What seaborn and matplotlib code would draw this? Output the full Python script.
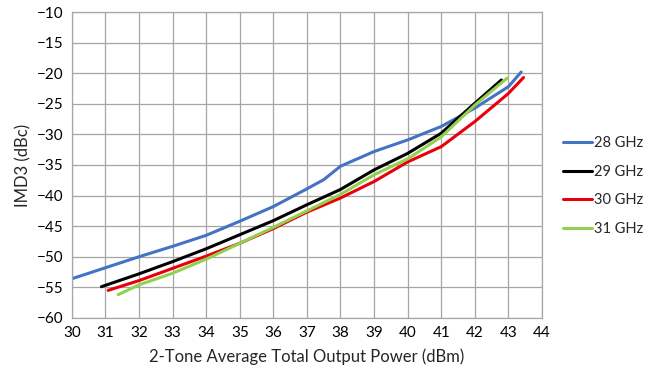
import pandas as pd
import matplotlib.pyplot as plt
import seaborn as sns

# values (x = output power dBm, y = IMD3 dBc)
p28 = [30.0, 31, 32, 33, 34, 35, 36, 37, 37.5, 38, 39, 40, 41, 42, 43, 43.38]
imd28 = [-53.6, -51.8, -50.0, -48.3, -46.5, -44.2, -41.8, -38.9, -37.4, -35.2, -32.8, -30.9, -28.7, -25.7, -22.2, -19.8]

p29 = [30.88, 32, 33, 34, 35, 36, 37, 38, 39, 40, 41, 42, 42.79]
imd29 = [-54.9, -52.8, -50.8, -48.7, -46.4, -44.1, -41.5, -39.0, -35.8, -33.1, -29.8, -24.9, -21.1]

p30 = [31.08, 32, 33, 34, 35, 36, 37, 38, 39, 40, 41, 42, 43, 43.45]
imd30 = [-55.5, -53.9, -51.9, -49.9, -47.8, -45.4, -42.7, -40.4, -37.7, -34.5, -32.0, -27.9, -23.3, -20.7]

p31 = [31.38, 32, 33, 34, 35, 36, 37, 38, 39, 40, 41, 42, 42.96]
imd31 = [-56.2, -54.6, -52.7, -50.4, -47.8, -45.2, -42.5, -39.8, -36.6, -34.0, -30.4, -25.2, -20.8]

labels = ["28 GHz", "29 GHz", "30 GHz", "31 GHz"]
colors = ["#4472C4", "#000000", "#E8000B", "#92D050"]

frames = []
for lab, xs, ys in zip(labels, [p28, p29, p30, p31], [imd28, imd29, imd30, imd31]):
    frames.append(pd.DataFrame({"power": xs, "imd3": ys, "freq": lab}))
df = pd.concat(frames, ignore_index=True)

sns.set_style("white")
plt.rcParams['font.family'] = ['Lato', 'DejaVu Sans']

fig = plt.figure(figsize=(6.53, 3.78), dpi=100)
ax = fig.add_axes([0.110, 0.159, 0.720, 0.809])

sns.lineplot(data=df, x="power", y="imd3", hue="freq", palette=colors,
             sort=False, estimator=None, linewidth=2.2, ax=ax)

ax.set_xlim(30, 44)
ax.set_ylim(-60, -10)
ax.set_xticks(range(30, 45))
ax.set_yticks(range(-60, -9, 5))
ax.grid(True, color="#a6a6a6", linewidth=0.9)
for s in ax.spines.values():
    s.set_color("#a6a6a6")
    s.set_linewidth(0.9)
ax.tick_params(axis="both", length=0, labelsize=11, colors="#000000", pad=6)
ax.set_xlabel("2-Tone Average Total Output Power (dBm)", fontsize=12, labelpad=6)
ax.set_ylabel("IMD3 (dBc)", fontsize=12, labelpad=4)

leg = ax.legend(loc="center left", bbox_to_anchor=(0.862, 0.508),
                bbox_transform=fig.transFigure, frameon=False, borderpad=0,
                borderaxespad=0, fontsize=10.5, handlelength=2.0,
                handletextpad=0.1, labelspacing=1.0)
leg.set_title(None)

fig.savefig("out.png", dpi=100)
